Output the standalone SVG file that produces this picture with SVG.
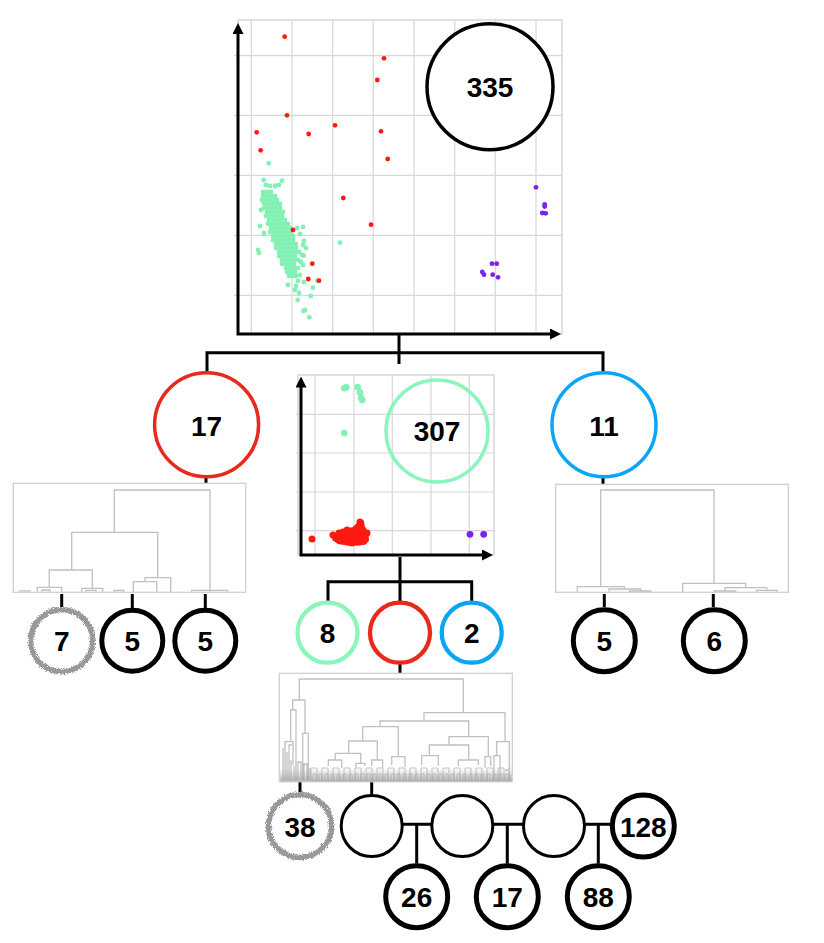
<svg xmlns="http://www.w3.org/2000/svg" width="824" height="943" viewBox="0 0 824 943">
<style>
.frame{fill:#fff;stroke:#d0d0d0;stroke-width:1.3}
.grid{stroke:#d8d8d8;stroke-width:1.2;fill:none}
.axis{fill:none;stroke:#000;stroke-width:3;stroke-linejoin:miter}
.conn{fill:none;stroke:#000;stroke-width:3}
.den{fill:none;stroke:#c0c0c0;stroke-width:1.3}
.lbl{font-family:"Liberation Sans",Arial,sans-serif;font-weight:bold;font-size:28px;text-anchor:middle;fill:#000}
.r{fill:#ff1a0f}
.g{fill:#82f1b3}
.p{fill:#7a22e8}
.ring{fill:#fff}
.k{stroke:#000}
.red{stroke:#e8291c}
.blue{stroke:#0aa5f5}
.grn{stroke:#8cf5bb}
.rough{fill:#fff;stroke:#999;stroke-width:5.5}
</style>
<defs>
<marker id="arr" viewBox="0 0 11 11" refX="3" refY="5.5" markerWidth="11" markerHeight="11" markerUnits="userSpaceOnUse" orient="auto-start-reverse">
<path d="M0,0 L11,5.5 L0,11 z" fill="#000"/>
</marker>
<filter id="noise" x="-20%" y="-20%" width="140%" height="140%">
<feTurbulence type="fractalNoise" baseFrequency="1.3" numOctaves="2" seed="3" result="n"/>
<feDisplacementMap in="SourceGraphic" in2="n" scale="5" xChannelSelector="R" yChannelSelector="G"/>
</filter>
<pattern id="leafA" x="312" y="765" width="6" height="16" patternUnits="userSpaceOnUse">
<path d="M1,16 V9 H4 V16" fill="none" stroke="#b5b5b5" stroke-width="0.8"/>
</pattern>
<pattern id="leafB" x="310" y="756" width="11" height="25" patternUnits="userSpaceOnUse">
<path d="M1,25 V12 H7 V25" fill="none" stroke="#bdbdbd" stroke-width="0.9"/>
</pattern>
<linearGradient id="base" x1="0" y1="0" x2="0" y2="1">
<stop offset="0" stop-color="#aaa" stop-opacity="0"/>
<stop offset="1" stop-color="#999" stop-opacity="0.7"/>
</linearGradient>
</defs>
<rect width="824" height="943" fill="#fff"/>

<!-- top scatter plot -->
<g id="plot-top">
<rect class="frame" x="238" y="20" width="324" height="314"/>
<path class="grid" d="M251.3,20V334M292,20V334M332.7,20V334M373.3,20V334M414,20V334M454.7,20V334M495.3,20V334M536,20V334M234,55.7H562M234,115.3H562M234,175.3H562M234,235.3H562M234,295.3H562"/>
<g class="g">
<circle cx="263" cy="192" r="2.4"/><circle cx="267" cy="192" r="2.4"/><circle cx="271" cy="192" r="2.4"/>
<circle cx="263" cy="196" r="2.4"/><circle cx="267" cy="196" r="2.4"/><circle cx="271" cy="196" r="2.4"/><circle cx="275" cy="196" r="2.4"/>
<circle cx="262" cy="200" r="2.4"/><circle cx="266" cy="200" r="2.4"/><circle cx="270" cy="200" r="2.4"/><circle cx="274" cy="200" r="2.4"/><circle cx="277" cy="200" r="2.4"/>
<circle cx="265" cy="204" r="2.4"/><circle cx="269" cy="204" r="2.4"/><circle cx="273" cy="204" r="2.4"/><circle cx="277" cy="204" r="2.4"/><circle cx="280" cy="204" r="2.4"/>
<circle cx="264" cy="208" r="2.4"/><circle cx="268" cy="208" r="2.4"/><circle cx="272" cy="208" r="2.4"/><circle cx="276" cy="208" r="2.4"/><circle cx="280" cy="208" r="2.4"/>
<circle cx="267" cy="212" r="2.4"/><circle cx="271" cy="212" r="2.4"/><circle cx="275" cy="212" r="2.4"/><circle cx="279" cy="212" r="2.4"/><circle cx="283" cy="212" r="2.4"/>
<circle cx="266" cy="216" r="2.4"/><circle cx="270" cy="216" r="2.4"/><circle cx="274" cy="216" r="2.4"/><circle cx="278" cy="216" r="2.4"/><circle cx="282" cy="216" r="2.4"/>
<circle cx="269" cy="220" r="2.4"/><circle cx="273" cy="220" r="2.4"/><circle cx="277" cy="220" r="2.4"/><circle cx="281" cy="220" r="2.4"/><circle cx="285" cy="220" r="2.4"/>
<circle cx="268" cy="224" r="2.4"/><circle cx="272" cy="224" r="2.4"/><circle cx="276" cy="224" r="2.4"/><circle cx="280" cy="224" r="2.4"/><circle cx="284" cy="224" r="2.4"/><circle cx="288" cy="224" r="2.4"/>
<circle cx="271" cy="228" r="2.4"/><circle cx="275" cy="228" r="2.4"/><circle cx="279" cy="228" r="2.4"/><circle cx="283" cy="228" r="2.4"/><circle cx="287" cy="228" r="2.4"/><circle cx="291" cy="228" r="2.4"/>
<circle cx="270" cy="232" r="2.4"/><circle cx="274" cy="232" r="2.4"/><circle cx="278" cy="232" r="2.4"/><circle cx="282" cy="232" r="2.4"/><circle cx="286" cy="232" r="2.4"/><circle cx="290" cy="232" r="2.4"/>
<circle cx="273" cy="236" r="2.4"/><circle cx="277" cy="236" r="2.4"/><circle cx="281" cy="236" r="2.4"/><circle cx="285" cy="236" r="2.4"/><circle cx="289" cy="236" r="2.4"/><circle cx="293" cy="236" r="2.4"/>
<circle cx="273" cy="240" r="2.4"/><circle cx="277" cy="240" r="2.4"/><circle cx="281" cy="240" r="2.4"/><circle cx="285" cy="240" r="2.4"/><circle cx="289" cy="240" r="2.4"/><circle cx="293" cy="240" r="2.4"/>
<circle cx="276" cy="244" r="2.4"/><circle cx="280" cy="244" r="2.4"/><circle cx="284" cy="244" r="2.4"/><circle cx="288" cy="244" r="2.4"/><circle cx="292" cy="244" r="2.4"/><circle cx="296" cy="244" r="2.4"/>
<circle cx="276" cy="248" r="2.4"/><circle cx="280" cy="248" r="2.4"/><circle cx="284" cy="248" r="2.4"/><circle cx="288" cy="248" r="2.4"/><circle cx="292" cy="248" r="2.4"/><circle cx="296" cy="248" r="2.4"/>
<circle cx="279" cy="252" r="2.4"/><circle cx="283" cy="252" r="2.4"/><circle cx="287" cy="252" r="2.4"/><circle cx="291" cy="252" r="2.4"/><circle cx="295" cy="252" r="2.4"/><circle cx="299" cy="252" r="2.4"/>
<circle cx="279" cy="256" r="2.4"/><circle cx="283" cy="256" r="2.4"/><circle cx="287" cy="256" r="2.4"/><circle cx="291" cy="256" r="2.4"/><circle cx="295" cy="256" r="2.4"/>
<circle cx="282" cy="260" r="2.4"/><circle cx="286" cy="260" r="2.4"/><circle cx="290" cy="260" r="2.4"/><circle cx="294" cy="260" r="2.4"/><circle cx="298" cy="260" r="2.4"/>
<circle cx="282" cy="264" r="2.4"/><circle cx="286" cy="264" r="2.4"/><circle cx="290" cy="264" r="2.4"/><circle cx="294" cy="264" r="2.4"/>
<circle cx="286" cy="268" r="2.4"/><circle cx="290" cy="268" r="2.4"/><circle cx="294" cy="268" r="2.4"/><circle cx="298" cy="268" r="2.4"/>
<circle cx="287" cy="272" r="2.4"/><circle cx="291" cy="272" r="2.4"/><circle cx="295" cy="272" r="2.4"/>
<circle cx="292" cy="276" r="2.4"/><circle cx="296" cy="276" r="2.4"/>
<circle cx="266" cy="185" r="2.4"/><circle cx="270" cy="186" r="2.4"/><circle cx="275" cy="186" r="2.4"/>
<circle cx="261" cy="210" r="2.4"/><circle cx="264" cy="233" r="2.4"/>
<circle cx="289" cy="276" r="2.4"/><circle cx="298" cy="281" r="2.4"/><circle cx="296" cy="286" r="2.4"/>
<circle cx="300" cy="275" r="2.4"/><circle cx="303" cy="265" r="2.4"/><circle cx="302" cy="255" r="2.4"/><circle cx="303" cy="245" r="2.4"/>
<circle cx="300" cy="234" r="2.4"/><circle cx="297" cy="228" r="2.4"/><circle cx="279" cy="185" r="2.4"/><circle cx="258" cy="250" r="2.4"/><circle cx="259" cy="253" r="2.4"/>
<circle cx="268.7" cy="163.3" r="2.4"/><circle cx="263.7" cy="180" r="2.4"/><circle cx="282" cy="180.7" r="2.4"/><circle cx="275.3" cy="185.7" r="2.4"/>
<circle cx="340" cy="242.7" r="2.4"/><circle cx="297.7" cy="300" r="2.4"/><circle cx="310.7" cy="296" r="2.4"/><circle cx="305" cy="310" r="2.4"/>
<circle cx="303.5" cy="311" r="2.4"/><circle cx="309.3" cy="317.3" r="2.4"/><circle cx="313" cy="287.7" r="2.4"/><circle cx="317.3" cy="280.7" r="2.4"/>
<circle cx="303" cy="227" r="2.4"/><circle cx="304" cy="241" r="2.4"/><circle cx="303.7" cy="255.7" r="2.4"/><circle cx="306" cy="248" r="2.4"/>
<circle cx="301" cy="262" r="2.4"/><circle cx="295" cy="290" r="2.4"/><circle cx="299" cy="293" r="2.4"/><circle cx="304" cy="282" r="2.4"/>
<circle cx="288" cy="285" r="2.4"/><circle cx="264" cy="234" r="2.4"/><circle cx="260" cy="226" r="2.4"/><circle cx="264" cy="203" r="2.4"/>
</g>
<g class="r">
<circle cx="284.7" cy="36.7" r="2.4"/><circle cx="384" cy="58.3" r="2.4"/><circle cx="377.3" cy="80" r="2.4"/><circle cx="287" cy="115.3" r="2.4"/>
<circle cx="335" cy="125.3" r="2.4"/><circle cx="381" cy="131.3" r="2.4"/><circle cx="256.7" cy="132.3" r="2.4"/><circle cx="308.7" cy="134" r="2.4"/>
<circle cx="260.7" cy="150.3" r="2.4"/><circle cx="387.7" cy="159" r="2.4"/><circle cx="343.3" cy="198" r="2.4"/><circle cx="371" cy="224.7" r="2.4"/>
<circle cx="293" cy="230" r="2.4"/><circle cx="312.3" cy="263.7" r="2.4"/><circle cx="308.3" cy="279" r="2.4"/><circle cx="319" cy="280.7" r="2.4"/>
</g>
<g class="p">
<circle cx="536" cy="187.3" r="2.4"/><circle cx="544.7" cy="204.3" r="2.4"/><circle cx="544.7" cy="206.5" r="2.4"/><circle cx="542.3" cy="213" r="2.4"/>
<circle cx="545.7" cy="213.3" r="2.4"/><circle cx="492" cy="263.7" r="2.4"/><circle cx="496.7" cy="263.7" r="2.4"/><circle cx="482.3" cy="272" r="2.4"/>
<circle cx="484" cy="274.7" r="2.4"/><circle cx="492.7" cy="274.7" r="2.4"/><circle cx="498" cy="277.3" r="2.4"/>
</g>
<path class="axis" d="M238,31 V334 H553" marker-start="url(#arr)" marker-end="url(#arr)"/>
</g>
<g id="node-335">
<circle class="ring k" cx="490" cy="86.7" r="63" stroke-width="3.5"/>
<text class="lbl" x="490" y="97">335</text>
</g>

<!-- middle scatter plot -->
<g id="plot-mid">
<rect class="frame" x="298" y="375" width="196" height="180"/>
<path class="grid" d="M315,375V555M354,375V555M392.3,375V555M431,375V555M469.3,375V555M296,414.3H494M296,453H494M296,492H494M296,530.7H494"/>
<g class="g">
<circle cx="344.3" cy="388.3" r="3.3"/><circle cx="346.3" cy="387.3" r="3.3"/><circle cx="357.7" cy="387" r="3.3"/><circle cx="360" cy="392.3" r="3.3"/>
<circle cx="361" cy="397.7" r="3.3"/><circle cx="362.3" cy="400" r="3.3"/><circle cx="344.3" cy="433" r="3.3"/>
</g>
<g class="r">
<path d="M334,533 L345,530 L353,527 L357,523 L360,519 L364,521 L365,528 L368,533 L369,541 L364,545 L350,546 L338,544 L332,540 Z"/>
<circle cx="333" cy="535" r="3.5"/><circle cx="337" cy="537" r="3.5"/><circle cx="341" cy="534" r="3.5"/><circle cx="345" cy="538" r="3.5"/>
<circle cx="349" cy="536" r="3.5"/><circle cx="353" cy="539" r="3.5"/><circle cx="357" cy="537" r="3.5"/><circle cx="361" cy="535" r="3.5"/>
<circle cx="365" cy="538" r="3.5"/><circle cx="367" cy="533" r="3.5"/><circle cx="363" cy="530" r="3.5"/><circle cx="359" cy="526" r="3.5"/>
<circle cx="360" cy="522" r="3.5"/><circle cx="356" cy="529" r="3.5"/><circle cx="351" cy="531" r="3.5"/><circle cx="347" cy="530" r="3.5"/>
<circle cx="343" cy="532" r="3.5"/><circle cx="339" cy="533" r="3.5"/><circle cx="346" cy="541" r="3.5"/><circle cx="352" cy="543" r="3.5"/>
<circle cx="358" cy="542" r="3.5"/><circle cx="364" cy="541" r="3.5"/><circle cx="340" cy="540" r="3.5"/><circle cx="312" cy="539" r="3.5"/>
</g>
<g class="p">
<circle cx="470" cy="534.3" r="3.4"/><circle cx="483.7" cy="534.3" r="3.4"/>
</g>
<path class="axis" d="M301,384.5 V555 H485" stroke-width="2.6" marker-start="url(#arr)" marker-end="url(#arr)"/>
</g>
<g id="node-307">
<circle class="grn" cx="437" cy="431" r="51" fill="none" stroke-width="3.5"/>
<text class="lbl" x="437" y="441.4">307</text>
</g>

<!-- connectors -->
<g id="connectors">
<path class="conn" d="M399,335 V364"/>
<path class="conn" d="M207,371 V352.7 H603 V371"/>
<path class="conn" d="M206,477 V483"/>
<path class="conn" d="M603,477 V484"/>
<path class="conn" d="M61.7,594 V607"/>
<path class="conn" d="M132.3,594 V608"/>
<path class="conn" d="M205.3,594 V608"/>
<path class="conn" d="M604.3,594 V607"/>
<path class="conn" d="M713.3,594 V607"/>
<path class="conn" d="M400,557 V601"/>
<path class="conn" d="M328,601 V581.7 H471.7 V601"/>
<path class="conn" d="M400,664 V673"/>
<path class="conn" d="M300,782 V792"/>
<path class="conn" d="M371.7,782 V794"/>
<path class="conn" d="M403,824.3 H431 M416.7,824.3 V863.4"/>
<path class="conn" d="M494,824.3 H523 M507.3,824.3 V863.4"/>
<path class="conn" d="M585.5,824.3 H610 M598.3,824.3 V863.4"/>
</g>

<!-- left dendrogram -->
<g id="dendro-left">
<rect class="frame" x="13.3" y="483.3" width="232.4" height="109"/>
<path class="den" d="M114.3,532.3 V490 H210 V591.7 M71.7,570 V532.3 H157.7 V577.7 M49.3,587.3 V570 H92.3 V588.3 M37.3,591.7 V587.3 H61.7 V591.7 M81.7,591.7 V588.3 H102.7 V591.7 M145,581.7 V577.7 H170.7 V591.7 M133.3,591.7 V581.7 H156.7 V591.7 M191.7,591.7 V590.3 H227.7 V591.7 M20,591.7 V590.8 H30 V591.7 M42,591.7 V590 H50 V591.7 M114,591.7 V590.5 H124 V591.7 M86,591.7 V590.3 H96 V591.7"/>
</g>
<!-- right dendrogram -->
<g id="dendro-right">
<rect class="frame" x="555.7" y="484.3" width="232.6" height="108"/>
<path class="den" d="M600.7,586.7 V490 H714 V583.3 M577.3,591.7 V586.7 H624.3 V589 M609,591.7 V589 H640.7 V591 M629.3,592 V591 H650.7 V592 M682.7,591.7 V583.3 H745.7 V587.7 M725,591 V587.7 H766.7 V590.3 M714.3,592 V591 H735.7 V592 M756.7,592 V590.3 H777.3 V592"/>
</g>
<!-- bottom dendrogram -->
<g id="dendro-bottom">
<rect class="frame" x="279.3" y="673.3" width="233" height="108.4"/>
<rect x="310" y="756" width="201" height="25" fill="url(#leafB)"/>
<rect x="312" y="765" width="199" height="16" fill="url(#leafA)"/>
<path class="den" d="M299.3,700 V679 H463.3 V712.7 M292.7,710 V700 H305 V733.3 M290.7,741.7 V710 H296 V755 M285,780 V741.7 H293 V765 M302.7,758 V733.3 H308.3 V760 M424,721 V712.7 H505 V741.7 M496.7,755.7 V741.7 H509.3 V765 M494,765 V755.7 H500 V768 M380,726.7 V721 H468.7 V736.7 M362.7,741 V726.7 H398.3 V756.7 M348.7,753.3 V741 H377.3 V760 M335.3,760 V753.3 H360.7 V763.3 M328.3,766 V760 H341.7 V768 M356,768 V763.3 H365 V766 M371.7,766 V760 H382.7 V768 M391.7,765 V756.7 H405 V767 M449,745 V736.7 H488.3 V756.7 M429.3,755.7 V745 H468.7 V760 M421.7,765 V755.7 H438.3 V766 M458.3,766 V760 H478.3 V765 M485,768 V756.7 H490.7 V766"/>
<path class="den" stroke-width="0.9" d="M283,780 V748 M287,780 V752 M289,780 V745 H292 M291,780 V760 M294,780 V766 M296,780 V755 M298,780 V762 H301 V780 M302.7,758 V780 M304,780 V764 H307 V780 M308.3,760 V780 M310,780 V768 M494,765 V780 M500,768 V780 M509.3,765 V780 M505,770 H508"/>
<rect x="280" y="768" width="232" height="13.4" fill="url(#base)"/>
</g>

<!-- level 1 nodes -->
<g id="node-17a">
<circle class="ring red" cx="206.6" cy="424.7" r="52" stroke-width="3.5"/>
<text class="lbl" x="206.6" y="435.5">17</text>
</g>
<g id="node-11">
<circle class="ring blue" cx="604" cy="424.7" r="52" stroke-width="3.5"/>
<text class="lbl" x="604" y="435.5">11</text>
</g>

<!-- left leaf nodes -->
<g id="node-7">
<circle class="rough" cx="61.7" cy="640.7" r="31" filter="url(#noise)"/>
<text class="lbl" x="61.7" y="651">7</text>
</g>
<g id="node-5a">
<circle class="ring k" cx="132.3" cy="640.7" r="30.5" stroke-width="5"/>
<text class="lbl" x="132.3" y="651">5</text>
</g>
<g id="node-5b">
<circle class="ring k" cx="205.3" cy="640.7" r="30.5" stroke-width="5"/>
<text class="lbl" x="205.3" y="651">5</text>
</g>
<!-- right leaf nodes -->
<g id="node-5c">
<circle class="ring k" cx="604.3" cy="640.7" r="31" stroke-width="5"/>
<text class="lbl" x="604.3" y="651">5</text>
</g>
<g id="node-6">
<circle class="ring k" cx="714.3" cy="640.7" r="31" stroke-width="5"/>
<text class="lbl" x="714.3" y="651">6</text>
</g>

<!-- middle level nodes -->
<g id="node-8">
<circle class="ring grn" cx="327.5" cy="632.7" r="30" stroke-width="4.3"/>
<text class="lbl" x="327.5" y="643">8</text>
</g>
<g id="node-red">
<circle class="ring red" cx="400" cy="632.7" r="30" stroke-width="4.3"/>
</g>
<g id="node-2">
<circle class="ring blue" cx="471.7" cy="632.7" r="30" stroke-width="4.3"/>
<text class="lbl" x="471.7" y="643">2</text>
</g>

<!-- bottom nodes -->
<g id="node-38">
<circle class="rough" cx="300" cy="826" r="31.5" filter="url(#noise)"/>
<text class="lbl" x="300" y="836.5">38</text>
</g>
<g id="node-e1">
<circle class="ring k" cx="371.7" cy="826" r="30.5" stroke-width="3"/>
</g>
<g id="node-e2">
<circle class="ring k" cx="462.3" cy="826" r="30.5" stroke-width="3"/>
</g>
<g id="node-e3">
<circle class="ring k" cx="554" cy="826" r="30.5" stroke-width="3"/>
</g>
<g id="node-128">
<circle class="ring k" cx="643.3" cy="826" r="31" stroke-width="5"/>
<text class="lbl" x="643.3" y="836.5">128</text>
</g>
<g id="node-26">
<circle class="ring k" cx="416.7" cy="896.7" r="31" stroke-width="5"/>
<text class="lbl" x="416.7" y="907">26</text>
</g>
<g id="node-17b">
<circle class="ring k" cx="507.3" cy="896.7" r="31" stroke-width="5"/>
<text class="lbl" x="507.3" y="907">17</text>
</g>
<g id="node-88">
<circle class="ring k" cx="598.3" cy="896.7" r="31" stroke-width="5"/>
<text class="lbl" x="598.3" y="907">88</text>
</g>
</svg>
